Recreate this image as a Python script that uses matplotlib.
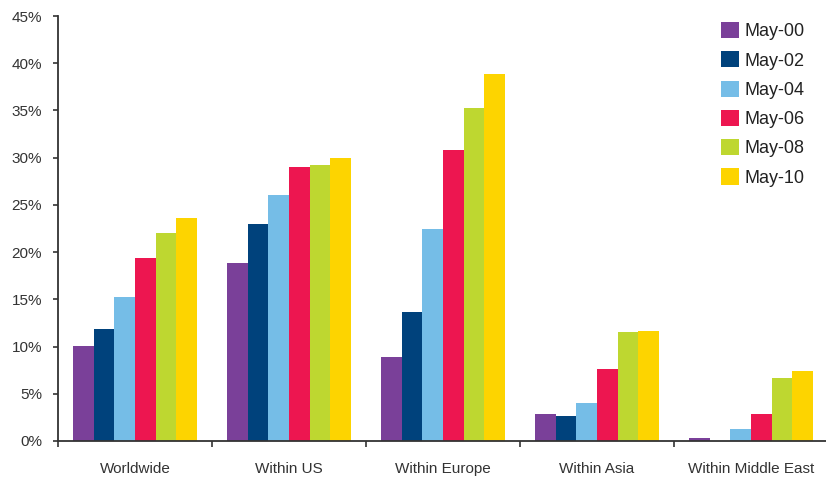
import numpy as np
import matplotlib
matplotlib.use('Agg')
import matplotlib.pyplot as plt
from matplotlib.ticker import FuncFormatter, FixedLocator

plt.rcParams['font.family'] = ['Liberation Sans', 'DejaVu Sans']

# data (percent)
categories = ['Worldwide', 'Within US', 'Within Europe', 'Within Asia', 'Within Middle East']
series = ['May-00', 'May-02', 'May-04', 'May-06', 'May-08', 'May-10']
may00 = [10.1, 18.9, 8.9, 2.9, 0.3]
may02 = [11.9, 23.0, 13.7, 2.7, 0.0]
may04 = [15.3, 26.1, 22.4, 4.0, 1.3]
may06 = [19.4, 29.0, 30.8, 7.6, 2.9]
may08 = [22.0, 29.2, 35.3, 11.5, 6.7]
may10 = [23.6, 30.0, 38.9, 11.6, 7.4]
colors = ['#7a4099', '#00427c', '#75bde7', '#ed1650', '#bed730', '#fdd400']

values = [may00, may02, may04, may06, may08, may10]

fig = plt.figure(figsize=(8.26, 4.78), dpi=100)
ax = fig.add_axes([58 / 826, 37 / 478, 770 / 826, 425 / 478])

x = np.arange(len(categories)) + 0.5
n = len(series)
group = 0.805
w = group / n
for i, (name, vals, c) in enumerate(zip(series, values, colors)):
    ax.bar(x - group / 2 + w * (i + 0.5), vals, width=w, color=c, label=name,
           linewidth=0)

ax.set_xlim(0, len(categories))
ax.set_ylim(0, 45)
ax.set_yticks(np.arange(0, 46, 5))
ax.yaxis.set_major_formatter(FuncFormatter(lambda v, p: f'{int(v)}%'))

ax.xaxis.set_major_locator(FixedLocator(np.arange(0, len(categories) + 1)))
ax.xaxis.set_major_formatter(FuncFormatter(lambda v, p: ''))
ax.xaxis.set_minor_locator(FixedLocator(x))
ax.set_xticklabels(categories, minor=True)

for s in ['top', 'right']:
    ax.spines[s].set_visible(False)
for s in ['left', 'bottom']:
    ax.spines[s].set_color('#333333')
    ax.spines[s].set_linewidth(1.3)

ax.tick_params(axis='y', direction='out', length=3.5, width=1.2, color='#333333',
               labelsize=11, labelcolor='#333333', pad=8)
ax.tick_params(axis='x', which='major', direction='out', length=4.5, width=1.2,
               color='#333333')
ax.tick_params(axis='x', which='minor', length=0, labelsize=11,
               labelcolor='#333333', pad=15)

leg = fig.legend(loc='upper left', bbox_to_anchor=(721 / 826, 1 - 22 / 478),
                 frameon=False, fontsize=13, handlelength=1.0, handleheight=1.0,
                 handletextpad=0.3, labelspacing=0.61, borderpad=0,
                 borderaxespad=0)
for t in leg.get_texts():
    t.set_color('#222222')

fig.savefig('out.png', dpi=100)
